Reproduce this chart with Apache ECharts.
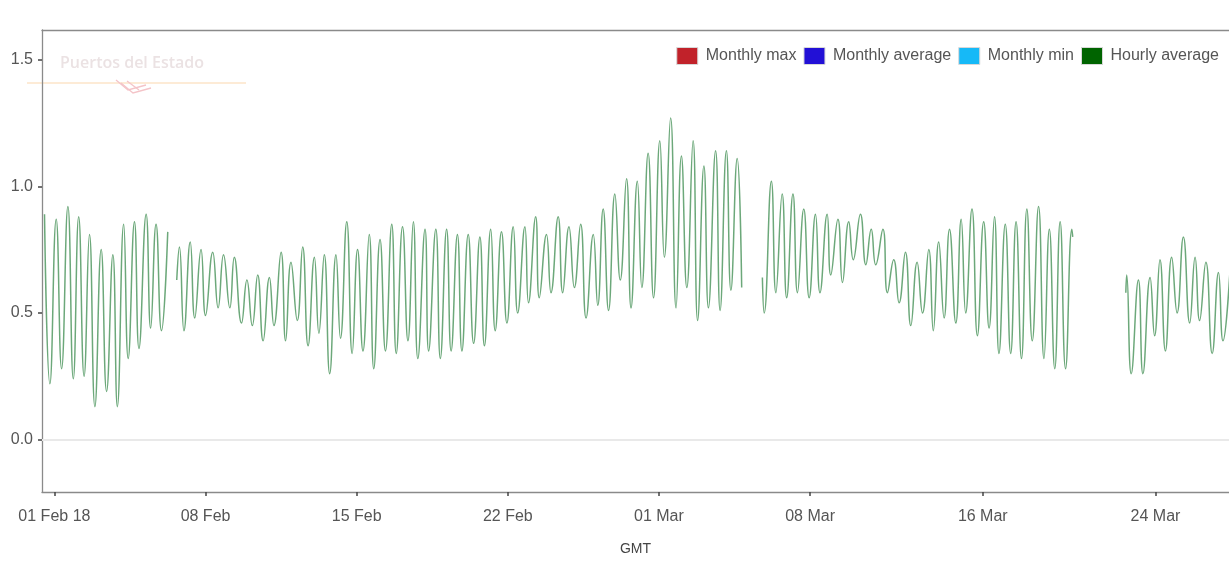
<!DOCTYPE html>
<html>
<head>
<meta charset="utf-8">
<script src="https://cdn.jsdelivr.net/npm/echarts@6/dist/echarts.min.js"></script>
<style>
  html, body { margin: 0; padding: 0; background: #ffffff; }
  #chart { width: 1229px; height: 561px; }
</style>
</head>
<body>
<div id="chart"></div>
<script>
// Hourly sea level (m), high and low water of each tide, 2018 (GMT).
// A null level marks a gap in the record.
const hourlyTimes = [
  '01-31 13', '01-31 19', '02-01 02', '02-01 08', '02-01 15', '02-01 21',
  '02-02 03', '02-02 09', '02-02 15', '02-02 21', '02-03 04', '02-03 10',
  '02-03 17', '02-03 22', '02-04 05', '02-04 10', '02-04 17', '02-04 22',
  '02-05 06', '02-05 11', '02-05 17', '02-05 23', '02-06 06', '02-06 11',
  '02-06 16', '02-06 19', '02-07 00', '02-07 07', '02-07 12', '02-07 19',
  '02-08 00', '02-08 08', '02-08 14', '02-08 20', '02-09 03', '02-09 08',
  '02-09 16', '02-09 22', '02-10 04', '02-10 10', '02-10 16', '02-10 23',
  '02-11 04', '02-11 12', '02-11 17', '02-11 23', '02-12 06', '02-12 12',
  '02-12 18', '02-13 01', '02-13 06', '02-13 12', '02-13 18', '02-14 01',
  '02-14 06', '02-14 13', '02-14 19', '02-15 01', '02-15 07', '02-15 14',
  '02-15 19', '02-16 02', '02-16 08', '02-16 15', '02-16 20', '02-17 03',
  '02-17 09', '02-17 15', '02-17 20', '02-18 04', '02-18 08', '02-18 16',
  '02-18 21', '02-19 04', '02-19 09', '02-19 16', '02-19 21', '02-20 04',
  '02-20 10', '02-20 17', '02-20 22', '02-21 05', '02-21 10', '02-21 17',
  '02-21 23', '02-22 06', '02-22 11', '02-22 19', '02-22 23', '02-23 07',
  '02-23 11', '02-23 19', '02-24 00', '02-24 08', '02-24 13', '02-24 20',
  '02-25 02', '02-25 09', '02-25 15', '02-25 23', '02-26 04', '02-26 10',
  '02-26 16', '02-26 23', '02-27 05', '02-27 12', '02-27 17', '02-28 00',
  '02-28 05', '02-28 12', '02-28 18', '03-01 01', '03-01 06', '03-01 13',
  '03-01 19', '03-02 01', '03-02 07', '03-02 14', '03-02 19', '03-03 02',
  '03-03 07', '03-03 15', '03-03 20', '03-04 03', '03-04 08', '03-04 15',
  '03-04 20', '03-05 08',
  '03-05 19', '03-05 21', '03-06 05', '03-06 10', '03-06 17', '03-06 22',
  '03-07 05', '03-07 10', '03-07 17', '03-07 23', '03-08 06', '03-08 11',
  '03-08 19', '03-08 23', '03-09 07', '03-09 12', '03-09 19', '03-10 00',
  '03-10 08', '03-10 14', '03-10 20', '03-11 01', '03-11 09', '03-11 14',
  '03-11 21', '03-12 03', '03-12 10', '03-12 16', '03-12 23', '03-13 05',
  '03-13 12', '03-13 17', '03-13 23', '03-14 05', '03-14 11', '03-14 18',
  '03-15 00', '03-15 05', '03-15 12', '03-15 18', '03-16 01', '03-16 07',
  '03-16 13', '03-16 18', '03-17 01', '03-17 07', '03-17 13', '03-17 19',
  '03-18 01', '03-18 07', '03-18 14', '03-18 20', '03-19 02', '03-19 08',
  '03-19 14', '03-19 20', '03-20 03', '03-20 04', '03-21 12',
  '03-22 15', '03-22 16', '03-22 21', '03-23 05', '03-23 10', '03-23 18',
  '03-23 23', '03-24 05', '03-24 11', '03-24 18', '03-25 00', '03-25 07',
  '03-25 14', '03-25 20', '03-26 01', '03-26 08', '03-26 15', '03-26 22',
  '03-27 03', '03-27 11'
];

const hourlyLevels = [
  0.89, 0.22, 0.87, 0.28, 0.92, 0.24,
  0.88, 0.25, 0.81, 0.13, 0.75, 0.19,
  0.73, 0.13, 0.85, 0.32, 0.86, 0.36,
  0.89, 0.44, 0.85, 0.43, 0.82, null,
  0.63, 0.76, 0.43, 0.78, 0.48, 0.75,
  0.49, 0.74, 0.52, 0.73, 0.52, 0.72,
  0.46, 0.63, 0.45, 0.65, 0.39, 0.64,
  0.45, 0.74, 0.39, 0.70, 0.47, 0.76,
  0.37, 0.72, 0.42, 0.73, 0.26, 0.73,
  0.40, 0.86, 0.34, 0.75, 0.35, 0.81,
  0.28, 0.79, 0.35, 0.85, 0.34, 0.84,
  0.39, 0.86, 0.32, 0.83, 0.35, 0.83,
  0.32, 0.83, 0.35, 0.81, 0.35, 0.81,
  0.38, 0.80, 0.37, 0.83, 0.43, 0.82,
  0.46, 0.84, 0.50, 0.84, 0.54, 0.88,
  0.56, 0.81, 0.58, 0.88, 0.58, 0.84,
  0.60, 0.85, 0.48, 0.81, 0.53, 0.91,
  0.51, 0.97, 0.63, 1.03, 0.52, 1.02,
  0.60, 1.13, 0.56, 1.18, 0.72, 1.27,
  0.52, 1.12, 0.60, 1.18, 0.47, 1.08,
  0.52, 1.14, 0.51, 1.14, 0.59, 1.11,
  0.60, null,
  0.64, 0.50, 1.02, 0.58, 0.97, 0.56,
  0.97, 0.58, 0.91, 0.56, 0.89, 0.58,
  0.89, 0.65, 0.87, 0.62, 0.86, 0.71,
  0.89, 0.69, 0.83, 0.69, 0.83, 0.58,
  0.71, 0.54, 0.74, 0.45, 0.70, 0.50,
  0.75, 0.43, 0.78, 0.48, 0.83, 0.46,
  0.87, 0.50, 0.91, 0.41, 0.86, 0.44,
  0.88, 0.34, 0.85, 0.34, 0.86, 0.32,
  0.91, 0.39, 0.92, 0.32, 0.83, 0.28,
  0.86, 0.28, 0.83, 0.80, null,
  0.58, 0.65, 0.26, 0.63, 0.26, 0.64,
  0.41, 0.71, 0.35, 0.72, 0.50, 0.80,
  0.46, 0.72, 0.47, 0.70, 0.34, 0.66,
  0.39, 0.68
];

// Monthly statistics series (legend entries)
const monthlyMax = [];
const monthlyAverage = [];
const monthlyMin = [];

const tickDates = ['2018-02-01', '2018-02-08', '2018-02-15', '2018-02-22',
                   '2018-03-01', '2018-03-08', '2018-03-16', '2018-03-24'];
const levelTicks = [0, 0.5, 1.0, 1.5];
const monthNames = ['Jan', 'Feb', 'Mar', 'Apr', 'May', 'Jun',
                    'Jul', 'Aug', 'Sep', 'Oct', 'Nov', 'Dec'];

function hourUTC(s) {
  const [md, hh] = s.split(' ');
  const [m, d] = md.split('-').map(Number);
  return Date.UTC(2018, m - 1, d, Number(hh));
}
function dayUTC(s) {
  const [y, m, d] = s.split('-').map(Number);
  return Date.UTC(y, m - 1, d);
}
const pad2 = n => (n < 10 ? '0' : '') + n;

const hourlySeries = hourlyTimes.map((t, i) => [hourUTC(t), hourlyLevels[i]]);
const tickValues = tickDates.map(dayUTC);

const X_MIN = Date.UTC(2018, 0, 31, 10, 13);
const X_MAX = Date.UTC(2018, 2, 27, 9, 42);

const FONT = "'Liberation Sans', Arial, sans-serif";
const FRAME = '#8a8a8a';

const chart = echarts.init(document.getElementById('chart'), null, { renderer: 'canvas' });

chart.setOption({
  animation: false,
  backgroundColor: '#ffffff',
  textStyle: { fontFamily: FONT },
  grid: { left: 42, right: 0, top: 30, bottom: 64 },
  legend: {
    right: 10, top: 47, padding: 0,
    itemWidth: 21, itemHeight: 17, itemGap: 7,
    icon: 'rect',
    textStyle: { color: '#555', fontSize: 16, fontFamily: FONT, padding: [0, 0, 0, 3] },
    itemStyle: { borderColor: '#d8d8d8', borderWidth: 1 },
    data: ['Monthly max', 'Monthly average', 'Monthly min', 'Hourly average']
  },
  xAxis: [
    {
      // time in ms (UTC) on a numeric scale
      type: 'value',
      min: X_MIN,
      max: X_MAX,
      name: 'GMT',
      nameLocation: 'middle',
      nameGap: 50,
      nameTextStyle: { color: '#444', fontSize: 14, fontFamily: FONT },
      axisLine: { onZero: false, lineStyle: { color: FRAME, width: 1.3 } },
      axisTick: { show: true, length: 4, lineStyle: { color: '#444', width: 1.5 }, customValues: tickValues },
      axisLabel: {
        color: '#555', fontSize: 16, margin: 17, fontFamily: FONT,
        customValues: tickValues,
        formatter: function (value) {
          const d = new Date(value);
          let s = pad2(d.getUTCDate()) + ' ' + monthNames[d.getUTCMonth()];
          if (value === tickValues[0]) s += ' ' + String(d.getUTCFullYear()).slice(2);
          return s;
        }
      },
      splitLine: { show: false }
    },
    {
      // top frame edge
      type: 'value',
      position: 'top',
      min: X_MIN,
      max: X_MAX,
      axisLine: { onZero: false, lineStyle: { color: FRAME, width: 1.3 } },
      axisTick: { show: false },
      axisLabel: { show: false },
      splitLine: { show: false }
    }
  ],
  yAxis: {
    type: 'value',
    min: -0.207,
    max: 1.617,
    axisLine: { show: true, onZero: false, lineStyle: { color: FRAME, width: 1.3 } },
    axisTick: { show: true, length: 4, lineStyle: { color: '#444', width: 1.5 }, customValues: levelTicks },
    axisLabel: {
      color: '#555', fontSize: 16, margin: 9, fontFamily: FONT,
      customValues: levelTicks,
      formatter: v => v.toFixed(1)
    },
    splitLine: { show: false }
  },
  graphic: [
    {
      type: 'text', left: 14, top: -24, silent: true,
      style: { text: 'Sea Level - Hourly average (m)', font: "bold 24px " + FONT, fill: '#222' }
    },
    {
      type: 'text', x: 60, y: 55, silent: true, z: 0,
      style: { text: 'Puertos del Estado', font: "600 16px 'Open Sans', sans-serif", fill: '#ebe2e3' }
    },
    {
      type: 'line', silent: true, z: 0,
      shape: { x1: 27, y1: 83, x2: 246, y2: 83 },
      style: { stroke: '#fde4c8', lineWidth: 1.5 }
    },
    {
      type: 'group', silent: true, z: 0,
      children: [
        { type: 'polyline', shape: { points: [[116, 80], [128, 90], [146, 85]] }, style: { stroke: '#f4c4c8', lineWidth: 1.3, fill: null } },
        { type: 'polyline', shape: { points: [[121, 83], [133, 93], [151, 88]] }, style: { stroke: '#f4c4c8', lineWidth: 1.3, fill: null } },
        { type: 'line', shape: { x1: 127, y1: 81, x2: 139, y2: 90 }, style: { stroke: '#f4c4c8', lineWidth: 1.3 } }
      ]
    }
  ],
  series: [
    { name: 'Monthly max', type: 'line', data: monthlyMax, itemStyle: { color: '#c1222a' } },
    { name: 'Monthly average', type: 'line', data: monthlyAverage, itemStyle: { color: '#2210d6' } },
    { name: 'Monthly min', type: 'line', data: monthlyMin, itemStyle: { color: '#16b9f7' } },
    {
      name: 'Hourly average',
      type: 'line',
      data: hourlySeries,
      smooth: 0.5,
      showSymbol: false,
      connectNulls: false,
      itemStyle: { color: '#006400' },
      lineStyle: { color: '#5c9e6c', width: 1.5, opacity: 0.9 },
      markLine: {
        silent: true, symbol: 'none',
        label: { show: false },
        lineStyle: { color: '#e9e9e9', type: 'solid', width: 2 },
        data: [{ yAxis: 0 }]
      }
    }
  ]
});
</script>
</body>
</html>
